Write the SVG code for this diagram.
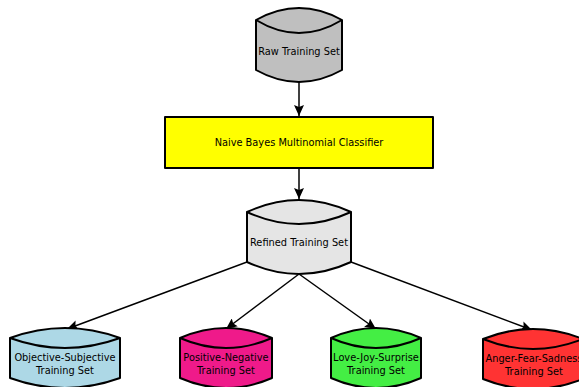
<svg xmlns="http://www.w3.org/2000/svg" width="579" height="387" viewBox="0 0 579 387">
  <style>
    .shape { stroke: #000; stroke-width: 2; stroke-linejoin: round; }
    .edge { stroke: #000; stroke-width: 1.5; fill: none; }
    text { font-family: "DejaVu Sans", sans-serif; font-size: 9.8px; fill: #000; text-anchor: middle; }
  </style>
  <defs>
    <marker id="arrow" markerUnits="userSpaceOnUse" markerWidth="12" markerHeight="10" refX="11" refY="5" orient="auto">
      <path d="M0,0 L11,5 L0,10 L2,5 z" fill="#000"/>
    </marker>
  </defs>

  <!-- connectors -->
  <g id="connectors">
    <path class="edge" d="M299,82 L299,116" marker-end="url(#arrow)"/>
    <path class="edge" d="M299,168 L299,199" marker-end="url(#arrow)"/>
    <path class="edge" d="M247,262 L67,329" marker-end="url(#arrow)"/>
    <path class="edge" d="M299,274 L226,329" marker-end="url(#arrow)"/>
    <path class="edge" d="M299,274 L376,329" marker-end="url(#arrow)"/>
    <path class="edge" d="M351,262 L532,330" marker-end="url(#arrow)"/>
  </g>

  <!-- source data store -->
  <g id="raw">
    <path class="shape" fill="#bfbfbf" d="M256,20 Q299,-4 342,20 L342,70 Q299,94 256,70 Z"/>
    <path class="shape" fill="none" d="M256,20 Q299,46 342,20"/>
    <text x="299" y="55">Raw Training Set</text>
  </g>

  <!-- classifier -->
  <g id="classifier">
    <rect class="shape" x="165" y="117" width="268" height="51" fill="#ffff00"/>
    <text x="299" y="146">Naive Bayes Multinomial Classifier</text>
  </g>

  <!-- refined data store -->
  <g id="refined">
    <path class="shape" fill="#e5e5e5" d="M247,212 Q299,188 351,212 L351,262 Q299,286 247,262 Z"/>
    <path class="shape" fill="none" d="M247,212 Q299,236 351,212"/>
    <text x="299" y="246">Refined Training Set</text>
  </g>

  <!-- per-category data stores -->
  <g id="objective">
    <path class="shape" fill="#add8e6" d="M10,338 Q65,318 120,338 L120,378 Q65,398 10,378 Z"/>
    <path class="shape" fill="none" d="M10,338 Q65,358 120,338"/>
    <text x="65" y="361">Objective-Subjective</text>
    <text x="65" y="374">Training Set</text>
  </g>

  <g id="positive">
    <path class="shape" fill="#ef1a8a" d="M180,338 Q226,318 272,338 L272,378 Q226,398 180,378 Z"/>
    <path class="shape" fill="none" d="M180,338 Q226,358 272,338"/>
    <text x="226" y="361">Positive-Negative</text>
    <text x="226" y="374">Training Set</text>
  </g>

  <g id="love">
    <path class="shape" fill="#44ee44" d="M331,338 Q376,318 421,338 L421,378 Q376,398 331,378 Z"/>
    <path class="shape" fill="none" d="M331,338 Q376,358 421,338"/>
    <text x="376" y="361">Love-Joy-Surprise</text>
    <text x="376" y="374">Training Set</text>
  </g>

  <g id="anger">
    <path class="shape" fill="#ff3333" d="M483,339 Q533,319 583,339 L583,379 Q533,399 483,379 Z"/>
    <path class="shape" fill="none" d="M483,339 Q533,359 583,339"/>
    <text x="534" y="362">Anger-Fear-Sadness</text>
    <text x="534" y="375">Training Set</text>
  </g>
</svg>
